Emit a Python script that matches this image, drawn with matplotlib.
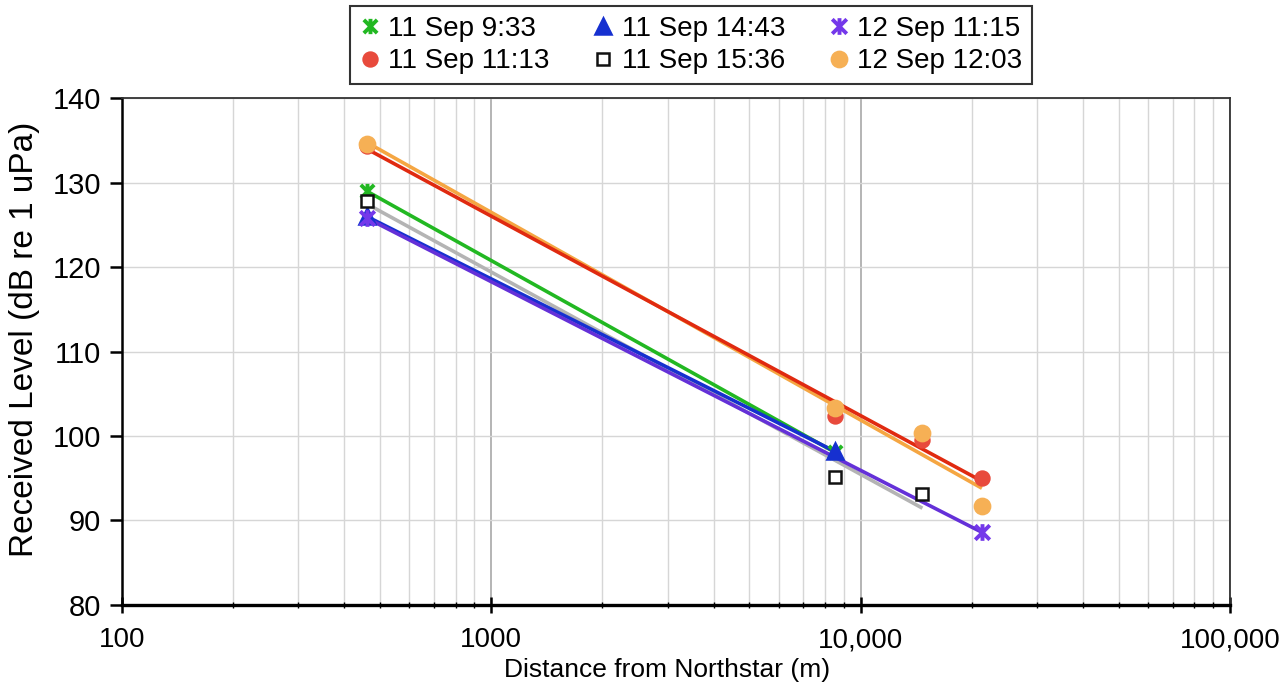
import numpy as np
import matplotlib
matplotlib.use('Agg')
import matplotlib.pyplot as plt
from matplotlib.path import Path
from matplotlib.ticker import FixedLocator, FixedFormatter, NullFormatter, LogLocator

plt.rcParams['font.family'] = ['Liberation Sans', 'DejaVu Sans']

# distances (m) and received levels (dB re 1 uPa) per survey
x_933 = [460, 8500]
y_933 = [129.0, 98.1]
x_1113 = [460, 8500, 14700, 21300]
y_1113 = [134.3, 102.4, 99.5, 95.0]
x_1443 = [460, 8500]
y_1443 = [126.0, 98.2]
x_1536 = [460, 8500, 14700]
y_1536 = [127.8, 95.2, 93.1]
x_1115 = [460, 21300]
y_1115 = [125.8, 88.6]
x_1203 = [460, 8500, 14700, 21300]
y_1203 = [134.6, 103.3, 100.4, 91.7]

x_ticks = [100, 1000, 10000, 100000]
x_tick_labels = ['100', '1000', '10,000', '100,000']
y_ticks = [80, 90, 100, 110, 120, 130, 140]

# excel style star: an X with a vertical stroke through it
star = Path([(-1, -1), (1, 1), (-1, 1), (1, -1), (0, -1.15), (0, 1.15)],
            [Path.MOVETO, Path.LINETO, Path.MOVETO, Path.LINETO,
             Path.MOVETO, Path.LINETO])

series = [
    # label, x, y, marker, marker colour, face, line colour, size
    ('11 Sep 9:33', x_933, y_933, star, '#22b822', '#22b822', '#22b822', 11),
    ('11 Sep 11:13', x_1113, y_1113, 'o', '#e84a3c', '#e84a3c', '#e02a10', 10),
    ('11 Sep 14:43', x_1443, y_1443, '^', '#1630d0', '#1630d0', '#1630d0', 11),
    ('11 Sep 15:36', x_1536, y_1536, 's', '#111111', 'white', '#b4b4b4', 8),
    ('12 Sep 11:15', x_1115, y_1115, star, '#7438ea', '#7438ea', '#6430d8', 12),
    ('12 Sep 12:03', x_1203, y_1203, 'o', '#f6b055', '#f6b055', '#f5a642', 11),
]
line_z = {'11 Sep 15:36': 2.0, '11 Sep 9:33': 2.1, '11 Sep 14:43': 2.2,
          '12 Sep 11:15': 2.3, '12 Sep 12:03': 2.4, '11 Sep 11:13': 2.5}

fig = plt.figure(figsize=(12.8, 6.82), dpi=100)
ax = fig.add_axes([0.0953, 0.113, 0.8656, 0.743])
ax.set_xscale('log')

handles = []
for label, xs, ys, mk, mc, fc, lc, ms in series:
    lx = np.log10(xs)
    slope, icpt = np.polyfit(lx, ys, 1)
    xx = np.array([min(xs), max(xs)])
    ax.plot(xx, slope * np.log10(xx) + icpt, color=lc, lw=2.6,
            zorder=line_z[label], solid_capstyle='butt')
    h, = ax.plot(xs, ys, ls='none', marker=mk, ms=ms, mfc=fc, mec=mc,
                 mew=2.8 if mk is star else 1.8, zorder=4, label=label)
    handles.append(h)

ax.set_xlim(100, 100000)
ax.set_ylim(80, 140)
ax.xaxis.set_major_locator(FixedLocator(x_ticks))
ax.xaxis.set_major_formatter(FixedFormatter(x_tick_labels))
ax.xaxis.set_minor_locator(LogLocator(base=10, subs=np.arange(2, 10)))
ax.xaxis.set_minor_formatter(NullFormatter())
ax.set_yticks(y_ticks)

ax.grid(which='major', axis='x', color='#a8a8a8', lw=1.2, zorder=0)
ax.grid(which='minor', axis='x', color='#d6d6d6', lw=1.0, zorder=0)
ax.grid(which='major', axis='y', color='#d6d6d6', lw=1.0, zorder=0)
ax.set_axisbelow(True)

ax.spines['top'].set_color('#333333')
ax.spines['top'].set_linewidth(1.3)
ax.spines['right'].set_color('#333333')
ax.spines['right'].set_linewidth(1.3)
ax.spines['left'].set_linewidth(1.8)
ax.spines['bottom'].set_linewidth(2.4)
ax.tick_params(axis='y', which='major', direction='out', length=9, width=1.8,
               labelsize=21, pad=6)
ax.tick_params(axis='x', which='major', direction='inout', length=12, width=1.8,
               labelsize=20, pad=10)
ax.tick_params(axis='x', which='minor', direction='inout', length=5, width=1.0)

ax.set_xlabel('Distance from Northstar (m)', fontsize=19)
ax.set_ylabel('Received Level (dB re 1 uPa)', fontsize=24)
ax.xaxis.set_label_coords(0.492, -0.105)
ax.yaxis.set_label_coords(-0.074, 0.525)

leg = fig.legend(handles=handles, loc='center', ncol=3,
                 bbox_to_anchor=(0.54, 0.934), frameon=True,
                 fancybox=False, edgecolor='black', handlelength=0.7,
                 handletextpad=0.3, columnspacing=1.6, labelspacing=0.25,
                 borderpad=0.35, prop={'size': 20})
leg.get_frame().set_linewidth(1.5)

fig.savefig('out.png', dpi=100)
